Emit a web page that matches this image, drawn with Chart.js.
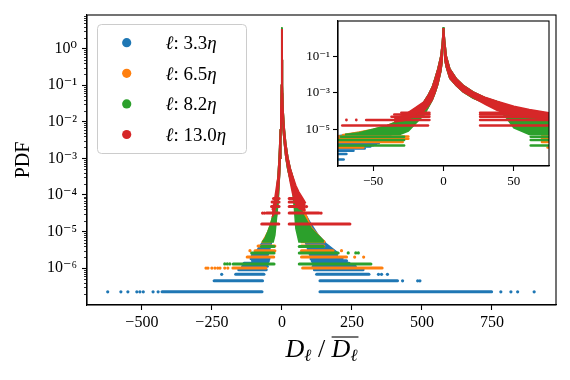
<!DOCTYPE html>
<html>
<head>
<meta charset="utf-8">
<script src="https://cdn.jsdelivr.net/npm/chart.js"></script>
<style>
  body { margin: 0; background: #fff; }
  #wrap { position: relative; width: 570px; height: 380px; }
  #main { position: absolute; left: 0; top: 0; }
  #inset { position: absolute; left: 296px; top: 6px; }
</style>
</head>
<body>
<div id="wrap">
  <canvas id="main" width="570" height="380"></canvas>
  <canvas id="inset" width="262" height="186"></canvas>
</div>
<script>
// values
const legendLabels = ['3.3', '6.5', '8.2', '13.0'];
const seriesColors = ['#1f77b4', '#ff7f0e', '#2ca02c', '#d62728'];

const mainXTicks = [-500, -250, 0, 250, 500, 750];
const mainYTicks = [1e-6, 1e-5, 1e-4, 1e-3, 1e-2, 1e-1, 1];
const insetXTicks = [-50, 0, 50];
const insetYTicks = [1e-5, 1e-3, 1e-1];

// rows of low counts: [pdf, left outer x, left inner x, right inner x, right outer x]
const blueBands = [
  [2.25e-7, -428, -71, 136, 749],
  [4.5e-7, -242, -69, 136, 413],
  [6.75e-7, -165, -64, 124, 311],
  [9.0e-7, -154, -56, 116, 290],
  [1.13e-6, -140, -52, 112, 262],
  [1.35e-6, -135, -50, 110, 240],
  [1.58e-6, -105, -48, 108, 231],
  [1.8e-6, -110, -46, 104, 215]
];
const orangeBands = [
  [1.0e-6, -175, -57, 74, 358],
  [2.0e-6, -124, -29, 70, 231],
  [3.0e-6, -96, -25, 70, 183],
  [4.0e-6, -85, -25, 70, 150]
];
const greenBands = [
  [1.3e-6, -174, -28, 62, 318],
  [2.6e-6, -108, -28, 62, 201],
  [3.9e-6, -73, -28, 62, 148]
];
const redBands = [
  [1.6e-5, -72, -11, 26, 243],
  [3.2e-5, -55, -10, 26, 133],
  [4.8e-5, -37, -10, 26, 80],
  [6.4e-5, -35, -10, 26, 76],
  [8.0e-5, -30, -10, 26, 67]
];

// isolated points: [x, pdf]
const blueDots = [
  [-622, 2.25e-7], [-575, 2.25e-7], [-550, 2.25e-7], [-518, 2.25e-7], [-507, 2.25e-7],
  [-495, 2.25e-7], [-460, 2.25e-7], [-442, 2.25e-7], [782, 2.25e-7], [818, 2.25e-7],
  [842, 2.25e-7], [901, 2.25e-7], [431, 4.5e-7], [485, 4.5e-7], [493, 4.5e-7],
  [-215, 6.75e-7], [345, 6.75e-7], [356, 6.75e-7], [377, 6.75e-7]
];
const orangeDots = [
  [-193, 1e-6], [-204, 1e-6], [-221, 1e-6], [-229, 1e-6], [-239, 1e-6], [-250, 1e-6],
  [-264, 1e-6], [-271, 1e-6], [260, 2e-6], [292, 2e-6], [-114, 3e-6], [213, 3e-6]
];
const greenDots = [
  [-186, 1.3e-6], [-195, 1.3e-6], [-204, 1.3e-6], [237, 2.6e-6], [264, 2.6e-6], [273, 2.6e-6]
];
const redDots = [
  [-69, 3.2e-5], [-62, 3.2e-5], [140, 3.2e-5], [88, 4.8e-5]
];

// dense core on each side: [x, upper pdf, lower pdf]
const blueCoreLeft = [
  [-110, 2.2e-6, 2.2e-6], [-90, 3e-6, 2.2e-6], [-70, 5e-6, 2.2e-6], [-50, 9e-6, 2.2e-6],
  [-40, 1.4e-5, 4e-6], [-31, 2.6e-5, 8e-6], [-25, 5e-5, 1.5e-5], [-20, 1e-4, 2.5e-5],
  [-14, 3e-4, 6e-5], [-11, 7e-4, 1.5e-4], [-8, 2e-3, 4e-4], [-6, 6e-3, 1e-3],
  [-4, 2e-2, 3e-3], [-1.9, 0.1, 1.5e-2], [-1, 0.4, 5e-2], [0, 3.6, 3.6]
];
const blueCoreRight = [
  [0, 3.6, 3.6], [1, 0.5, 6e-2], [2, 0.1, 2.5e-2], [4.5, 2e-2, 6e-3], [9, 6e-3, 2.5e-3],
  [14, 2.5e-3, 1.1e-3], [21, 1.1e-3, 5e-4], [30, 5e-4, 2.6e-4], [38, 3.2e-4, 1.5e-4],
  [48, 1.7e-4, 5e-5], [55, 1e-4, 2.5e-5], [75, 4e-5, 8e-6], [100, 1.8e-5, 2.2e-6],
  [130, 8e-6, 2.2e-6], [160, 4.5e-6, 2.2e-6], [200, 2.6e-6, 2.2e-6]
];
const orangeCoreLeft = [
  [-72, 5e-6, 5e-6], [-60, 7e-6, 5e-6], [-50, 1e-5, 5e-6], [-40, 1.6e-5, 5e-6],
  [-31, 3e-5, 6e-6], [-25, 5e-5, 1.2e-5], [-20, 1e-4, 2.5e-5], [-14, 3e-4, 6e-5],
  [-11, 7e-4, 1.5e-4], [-8, 2e-3, 4e-4], [-6, 6e-3, 1e-3], [-4, 2e-2, 3e-3],
  [-1.9, 0.1, 1.5e-2], [-1, 0.4, 5e-2], [0, 3.5, 3.5]
];
const orangeCoreRight = [
  [0, 3.5, 3.5], [1, 0.5, 6e-2], [2, 0.1, 2.5e-2], [4.5, 2e-2, 6e-3], [9, 6e-3, 2.5e-3],
  [14, 2.5e-3, 1.1e-3], [21, 1.1e-3, 5e-4], [30, 5e-4, 2.6e-4], [38, 3.2e-4, 1.5e-4],
  [47, 1.8e-4, 4e-5], [55, 1.1e-4, 2e-5], [70, 5.5e-5, 5e-6], [105, 1.3e-5, 5e-6],
  [140, 6.5e-6, 5e-6], [155, 5.2e-6, 5e-6]
];
const greenCoreLeft = [
  [-70, 5.2e-6, 5.2e-6], [-60, 6.5e-6, 5.2e-6], [-50, 1e-5, 5.2e-6], [-40, 1.6e-5, 5.2e-6],
  [-31, 3e-5, 5.2e-6], [-25, 5e-5, 8e-6], [-20, 1e-4, 2e-5], [-14, 3e-4, 6e-5],
  [-11, 7e-4, 1.5e-4], [-8, 2e-3, 4e-4], [-6, 6e-3, 1e-3], [-4, 2e-2, 3e-3],
  [-1.9, 0.1, 1.5e-2], [-1, 0.4, 5e-2], [0, 3.8, 3.8]
];
const greenCoreRight = [
  [0, 3.8, 3.8], [1, 0.5, 6e-2], [2, 0.1, 2.5e-2], [4.5, 2e-2, 6e-3], [9, 6e-3, 2.5e-3],
  [14, 2.5e-3, 1.1e-3], [21, 1.1e-3, 5e-4], [30, 5.2e-4, 2.6e-4], [38, 3.3e-4, 1.5e-4],
  [45, 2e-4, 4e-5], [50, 1.5e-4, 1.2e-5], [61, 6.5e-5, 5.2e-6], [75, 3e-5, 5.2e-6],
  [105, 1.2e-5, 5.2e-6], [140, 6.5e-6, 5.2e-6], [150, 5.4e-6, 5.2e-6]
];
const redCoreLeft = [
  [-35, 3.9e-5, 2.5e-5], [-28, 6e-5, 3e-5], [-21, 1.35e-4, 5e-5], [-14, 3.1e-4, 1e-4],
  [-11, 7e-4, 1.8e-4], [-8, 2e-3, 4e-4], [-6, 6e-3, 1e-3], [-4, 2e-2, 3e-3],
  [-1.9, 0.1, 1.5e-2], [-1, 0.4, 5e-2], [0, 3.4, 3.4]
];
const redCoreRight = [
  [0, 3.4, 3.4], [1, 0.5, 6e-2], [2, 0.1, 2.5e-2], [4.5, 2e-2, 6e-3], [9, 6e-3, 2.5e-3],
  [14, 2.5e-3, 1.1e-3], [21, 1.1e-3, 5.4e-4], [30, 5.4e-4, 2.2e-4], [38, 3.4e-4, 1.1e-4],
  [50, 1.8e-4, 5.5e-5], [61, 1.2e-4, 4.2e-5], [75, 8e-5, 3.8e-5], [85, 6e-5, 3.8e-5]
];

const bands = [blueBands, orangeBands, greenBands, redBands];
const dots = [blueDots, orangeDots, greenDots, redDots];
const coresLeft = [blueCoreLeft, orangeCoreLeft, greenCoreLeft, redCoreLeft];
const coresRight = [blueCoreRight, orangeCoreRight, greenCoreRight, redCoreRight];

const SERIF = '"Liberation Serif", "DejaVu Serif", serif';
Chart.defaults.font.family = SERIF;
Chart.defaults.color = '#000';

const SUP = {'-': '\u207B', '0': '\u2070', '1': '\u00B9', '2': '\u00B2', '3': '\u00B3',
  '4': '\u2074', '5': '\u2075', '6': '\u2076', '7': '\u2077', '8': '\u2078', '9': '\u2079'};
function powLabel(v) {
  const e = String(Math.round(Math.log10(v)));
  return '10' + e.split('').map(c => SUP[c]).join('');
}
function numLabel(v) {
  return v < 0 ? '\u2212' + Math.abs(v) : String(v);
}

function makeDatasets(bandWidth, dotRadius) {
  const sets = [];
  for (let s = 0; s < seriesColors.length; s++) {
    const color = seriesColors[s];
    const order = seriesColors.length - s; // red last = on top
    for (const core of [coresLeft[s], coresRight[s]]) {
      sets.push({data: core.map(r => ({x: r[0], y: r[1]})), borderColor: color,
        borderWidth: 1.5, pointRadius: 0, fill: false, order});
      sets.push({data: core.map(r => ({x: r[0], y: r[2]})), borderColor: color,
        backgroundColor: color, borderWidth: 1.5, pointRadius: 0, fill: '-1', order});
    }
    for (const b of bands[s]) {
      sets.push({data: [{x: b[1], y: b[0]}, {x: b[2], y: b[0]}], borderColor: color,
        borderWidth: bandWidth, borderCapStyle: 'round', pointRadius: 0, fill: false, order});
      sets.push({data: [{x: b[3], y: b[0]}, {x: b[4], y: b[0]}], borderColor: color,
        borderWidth: bandWidth, borderCapStyle: 'round', pointRadius: 0, fill: false, order});
    }
    sets.push({data: dots[s].map(d => ({x: d[0], y: d[1]})), showLine: false,
      pointRadius: dotRadius, pointBorderWidth: 0, backgroundColor: color,
      borderColor: color, order});
  }
  return sets;
}

const frame = {
  id: 'frame',
  beforeDraw(chart, args, opts) {
    if (!opts.white) return;
    const a = chart.chartArea, ctx = chart.ctx;
    ctx.save();
    ctx.fillStyle = '#fff';
    ctx.fillRect(a.left, a.top, a.right - a.left, a.bottom - a.top);
    ctx.restore();
  },
  afterDraw(chart) {
    const a = chart.chartArea, ctx = chart.ctx;
    ctx.save();
    ctx.strokeStyle = '#000';
    ctx.lineWidth = 1.1;
    ctx.strokeRect(a.left, a.top, a.right - a.left, a.bottom - a.top);
    ctx.restore();
  }
};

const minorTicks = {
  id: 'minorTicks',
  afterDraw(chart) {
    const y = chart.scales.y, ctx = chart.ctx, left = chart.chartArea.left;
    ctx.save();
    ctx.strokeStyle = '#000';
    ctx.lineWidth = 0.8;
    for (let e = -8; e <= 1; e++) {
      for (let m = 2; m <= 9; m++) {
        const v = m * Math.pow(10, e);
        if (v < y.min || v > y.max) continue;
        const py = Math.round(y.getPixelForValue(v)) + 0.5;
        ctx.beginPath();
        ctx.moveTo(left - 3, py);
        ctx.lineTo(left, py);
        ctx.stroke();
      }
    }
    ctx.restore();
  }
};

const legendBox = {
  id: 'legendBox',
  afterDraw(chart) {
    const ctx = chart.ctx;
    ctx.save();
    ctx.beginPath();
    ctx.roundRect(97.5, 24.5, 149, 129, 4);
    ctx.fillStyle = 'rgba(255,255,255,0.8)';
    ctx.fill();
    ctx.strokeStyle = '#cccccc';
    ctx.lineWidth = 1;
    ctx.stroke();
    legendLabels.forEach((lab, i) => {
      const y = 42.7 + i * 30.6;
      ctx.beginPath();
      ctx.arc(126.7, y, 4.6, 0, 2 * Math.PI);
      ctx.fillStyle = seriesColors[i];
      ctx.fill();
      ctx.fillStyle = '#000';
      ctx.textBaseline = 'alphabetic';
      let x = 165.5;
      [['\u2113', 'italic'], [': ' + lab, 'normal'], ['\u03B7', 'italic']].forEach(([t, st]) => {
        ctx.font = st + ' 19px ' + SERIF;
        ctx.fillText(t, x, y + 6.3);
        x += ctx.measureText(t).width;
      });
    });
    ctx.restore();
  }
};

const xLabel = {
  id: 'xLabel',
  afterDraw(chart) {
    const ctx = chart.ctx, a = chart.chartArea;
    const base = 357;
    const big = 'italic 26px ' + SERIF;
    const small = 'italic 17px ' + SERIF;
    const norm = '26px ' + SERIF;
    const parts = [
      ['D', big, 0, false], ['\u2113', small, 4, false], [' / ', norm, 0, false],
      ['D', big, 0, true], ['\u2113', small, 4, true]
    ];
    ctx.save();
    let total = 0;
    parts.forEach(p => { ctx.font = p[1]; total += ctx.measureText(p[0]).width; });
    let x = (a.left + a.right) / 2 - total / 2;
    let barStart = null, barEnd = null;
    ctx.fillStyle = '#000';
    parts.forEach(p => {
      ctx.font = p[1];
      const w = ctx.measureText(p[0]).width;
      ctx.fillText(p[0], x, base + p[2]);
      if (p[3]) { if (barStart === null) barStart = x; barEnd = x + w; }
      x += w;
    });
    ctx.strokeStyle = '#000';
    ctx.lineWidth = 1.1;
    ctx.beginPath();
    ctx.moveTo(barStart, base - 20);
    ctx.lineTo(barEnd + 1, base - 20);
    ctx.stroke();
    ctx.restore();
  }
};

function axisStyle(size, pad) {
  return {
    grid: {drawOnChartArea: false, drawTicks: true, tickLength: 5, tickWidth: 1.1,
      tickColor: '#000', color: '#000'},
    border: {display: true, color: '#000', width: 1.1},
    ticks: {color: '#000', font: {size: size, family: SERIF}, padding: pad,
      maxRotation: 0, autoSkip: false}
  };
}

const mainX = axisStyle(16, 3);
const mainY = axisStyle(16, 5);
new Chart(document.getElementById('main'), {
  type: 'line',
  data: {datasets: makeDatasets(3, 1.6)},
  options: {
    responsive: false, animation: false, events: [],
    layout: {padding: {left: 0, right: 14, top: 15, bottom: 0}},
    plugins: {legend: {display: false}, tooltip: {enabled: false}, frame: {white: false}},
    scales: {
      x: Object.assign(mainX, {
        type: 'linear', min: -696, max: 979,
        afterBuildTicks: s => { s.ticks = mainXTicks.map(v => ({value: v})); },
        afterFit: s => { s.height = 75; },
        ticks: Object.assign(mainX.ticks, {callback: v => numLabel(v)})
      }),
      y: Object.assign(mainY, {
        type: 'logarithmic', min: 9.8e-8, max: 8.3,
        afterBuildTicks: s => { s.ticks = mainYTicks.map(v => ({value: v})); },
        afterFit: s => { s.width = 87; },
        ticks: Object.assign(mainY.ticks, {callback: v => powLabel(v)}),
        title: {display: true, text: 'PDF', color: '#000',
          font: {size: 20, family: SERIF}, padding: {top: 12, bottom: 0}}
      })
    }
  },
  plugins: [frame, minorTicks, legendBox, xLabel]
});

const insX = axisStyle(13, 3);
const insY = axisStyle(13, 3);
new Chart(document.getElementById('inset'), {
  type: 'line',
  data: {datasets: makeDatasets(2.5, 1.4)},
  options: {
    responsive: false, animation: false, events: [],
    layout: {padding: {left: 0, right: 9, top: 15, bottom: 0}},
    plugins: {legend: {display: false}, tooltip: {enabled: false}, frame: {white: true}},
    scales: {
      x: Object.assign(insX, {
        type: 'linear', min: -75, max: 75,
        afterBuildTicks: s => { s.ticks = insetXTicks.map(v => ({value: v})); },
        afterFit: s => { s.height = 26; },
        ticks: Object.assign(insX.ticks, {callback: v => numLabel(v)})
      }),
      y: Object.assign(insY, {
        type: 'logarithmic', min: 9.8e-8, max: 8.3,
        afterBuildTicks: s => { s.ticks = insetYTicks.map(v => ({value: v})); },
        afterFit: s => { s.width = 42; },
        ticks: Object.assign(insY.ticks, {callback: v => powLabel(v)})
      })
    }
  },
  plugins: [frame]
});
</script>
</body>
</html>
